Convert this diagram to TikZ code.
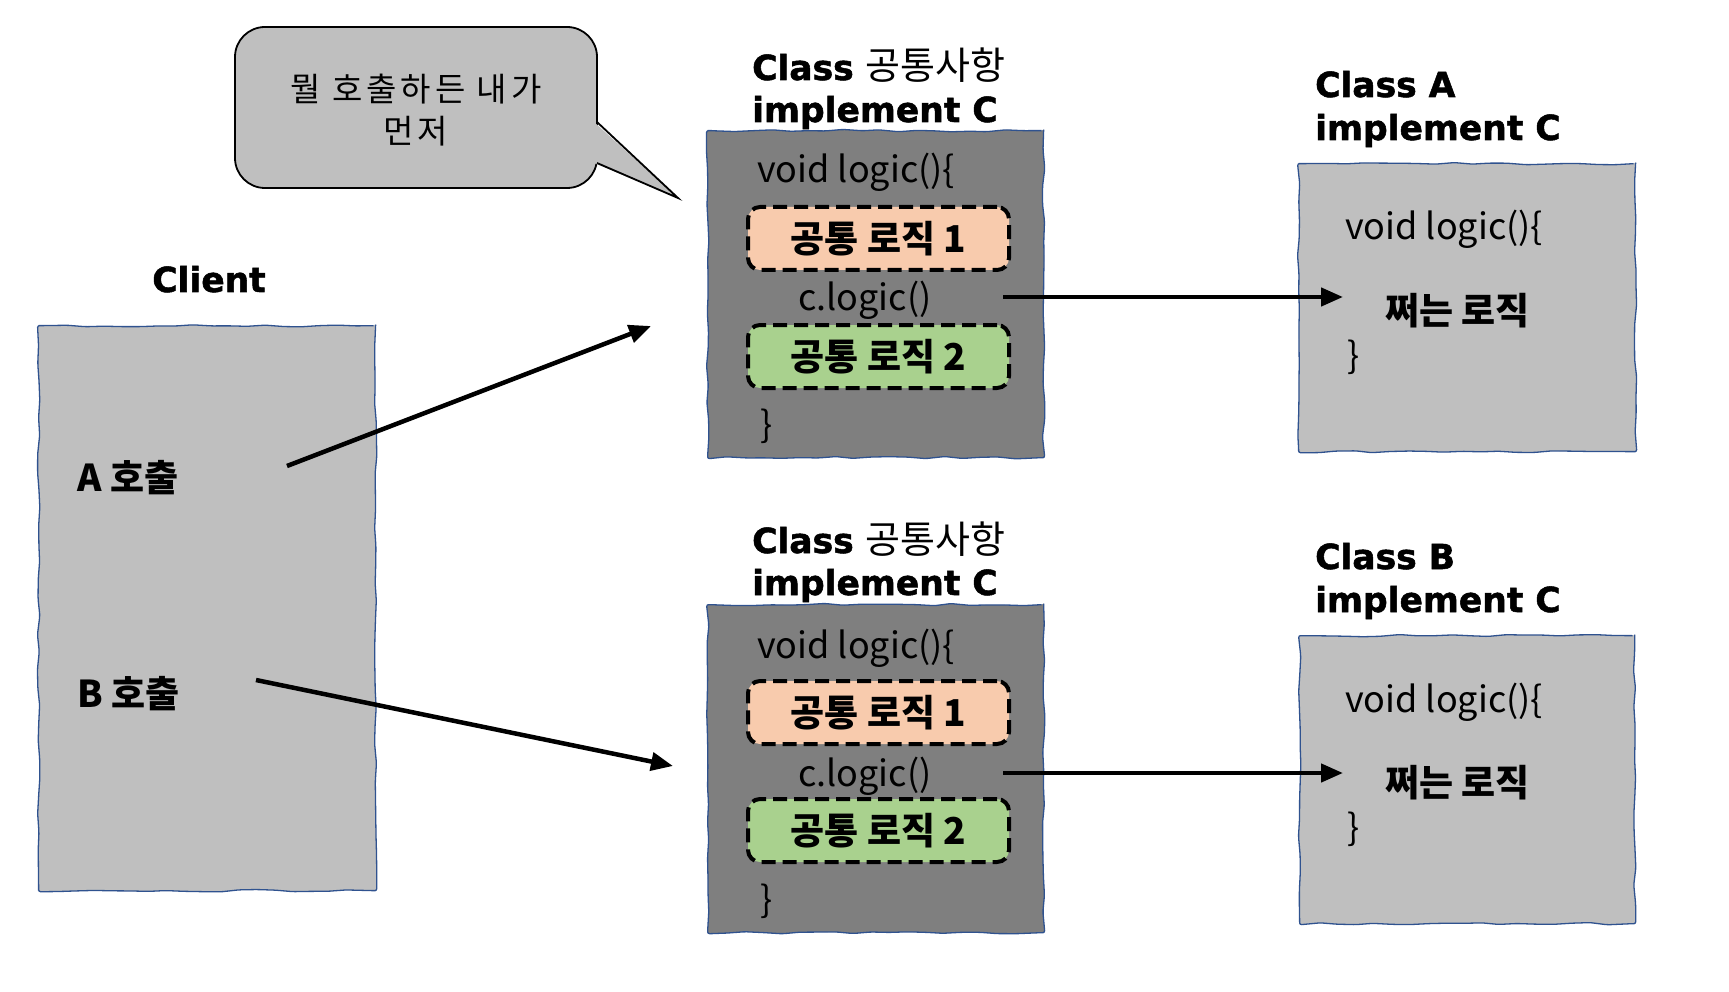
\documentclass[tikz,border=0pt]{standalone}
\usepackage{fontspec}
\setmainfont{Noto Sans CJK KR}
\newfontfamily\krfam{Noto Sans CJK KR}
\newfontfamily\bubfam{Noto Sans CJK KR}[LetterSpace=12]
\newfontfamily\dejafam{DejaVu Sans}[BoldFeatures={FakeBold=1.5}]
\usetikzlibrary{decorations.pathmorphing,arrows.meta}
\definecolor{bordblue}{HTML}{2F528F}
\definecolor{darkbox}{HTML}{7F7F7F}
\definecolor{lightbox}{HTML}{BFBFBF}
\definecolor{peach}{HTML}{F8CBAD}
\definecolor{softgreen}{HTML}{A9D18E}
\newcommand\ttlfont{\dejafam\bfseries\fontsize{34.5}{40}\selectfont}
\newcommand\krreg{\krfam\mdseries\fontsize{38}{40}\selectfont}
\newcommand\krbold{\krfam\bfseries\fontsize{37}{42}\selectfont}
\newcommand\codefont{\krfam\mdseries\fontsize{36}{42}\selectfont}
\newcommand\bubblefont{\bubfam\mdseries\fontsize{33}{42}\selectfont}
\tikzset{
  sketchbox/.style={draw=bordblue, line width=1.3pt, decorate,
    decoration={random steps, segment length=18pt, amplitude=1.2pt},
    rounded corners=2pt, inner sep=0pt, anchor=north west},
  dashbox/.style={draw=black, line width=4pt, dash pattern=on 14pt off 7pt,
    rounded corners=12pt, minimum width=261pt, minimum height=63pt,
    inner sep=0pt, font=\krbold},
  arr/.style={line width=4.5pt, -{Triangle[length=22pt,width=18pt]}},
  ttl/.style={anchor=base west, inner sep=0pt, font=\ttlfont},
  code/.style={anchor=base west, inner sep=0pt, font=\codefont},
  krlabel/.style={anchor=west, inner sep=0pt, font=\krbold},
}
\begin{document}
\begin{tikzpicture}[x=1pt,y=-1pt]
\pgfmathsetseed{7}
\useasboundingbox (0,0) rectangle (1729,992);

% speech bubble
\node[draw=black, line width=1.8pt, fill=lightbox, rounded corners=30pt,
  minimum width=362pt, minimum height=161pt, inner sep=0pt] (bubble) at (416,107.5) {};
\fill[lightbox] (594,122) -- (678,198) -- (594,163) -- cycle;
\draw[line width=1.8pt, line join=miter] (597,122) -- (678,198) -- (597,163);
\node[font=\bubblefont, align=center, inner sep=0pt] (bubbletext) at (416,110) {뭘 호출하든 내가\\먼저};

% client
\node[sketchbox, fill=lightbox, minimum width=337pt, minimum height=565pt] (client) at (38,325) {};
\node[anchor=base, inner sep=0pt, font=\ttlfont] (clientt) at (209,292) {Client};
\node[anchor=base west, inner sep=0pt, font=\krbold] (acall) at (77,491) {A 호출};
\node[anchor=base west, inner sep=0pt, font=\krbold] (bcall) at (77,707) {B 호출};

% common class top
\node[sketchbox, fill=darkbox, minimum width=336pt, minimum height=327pt] (comA) at (707,130) {};
\node[ttl] (comAt1) at (752,80) {Class {\krreg 공통사항}};
\node[ttl] (comAt2) at (752,122) {implement C};
\node[code] (comAv) at (757,183) {void logic()\{};
\node[dashbox, fill=peach] (comA1) at (878.5,238.5) {공통 로직 1};
\node[code] (comAc) at (798,311) {c.logic()};
\node[dashbox, fill=softgreen] (comA2) at (878.5,356.5) {공통 로직 2};
\node[code] (comAe) at (760,437) {\}};

% common class bottom
\node[sketchbox, fill=darkbox, minimum width=336pt, minimum height=328pt] (comB) at (707,604) {};
\node[ttl] (comBt1) at (752,553) {Class {\krreg 공통사항}};
\node[ttl] (comBt2) at (752,595) {implement C};
\node[code] (comBv) at (757,658) {void logic()\{};
\node[dashbox, fill=peach] (comB1) at (878.5,712.5) {공통 로직 1};
\node[code] (comBc) at (798,786) {c.logic()};
\node[dashbox, fill=softgreen] (comB2) at (878.5,830.5) {공통 로직 2};
\node[code] (comBe) at (760,912) {\}};

% class A
\node[sketchbox, fill=lightbox, minimum width=337pt, minimum height=288pt] (clsA) at (1298,163) {};
\node[ttl] (clsAt1) at (1315,97) {Class A};
\node[ttl] (clsAt2) at (1315,140) {implement C};
\node[code] (clsAv) at (1345,240) {void logic()\{};
\node[krlabel] (clsAl) at (1385,311) {쩌는 로직};
\node[code] (clsAe) at (1347,368) {\}};

% class B
\node[sketchbox, fill=lightbox, minimum width=335pt, minimum height=288pt] (clsB) at (1299,635) {};
\node[ttl] (clsBt1) at (1315,569) {Class B};
\node[ttl] (clsBt2) at (1315,612) {implement C};
\node[code] (clsBv) at (1345,712) {void logic()\{};
\node[krlabel] (clsBl) at (1385,783) {쩌는 로직};
\node[code] (clsBe) at (1347,840) {\}};

% connectors
\coordinate (aStart) at (287,466);
\coordinate (aEnd) at (651,326);
\coordinate (bStart) at (256,680);
\coordinate (bEnd) at (673,766);
\coordinate (cAStart) at (1003,297);
\coordinate (cAEnd) at (1343,297);
\coordinate (cBStart) at (1003,773);
\coordinate (cBEnd) at (1343,773);
\draw[arr] (aStart) -- (aEnd);
\draw[arr] (bStart) -- (bEnd);
\draw[arr] (cAStart) -- (cAEnd);
\draw[arr] (cBStart) -- (cBEnd);
\end{tikzpicture}
\end{document}
